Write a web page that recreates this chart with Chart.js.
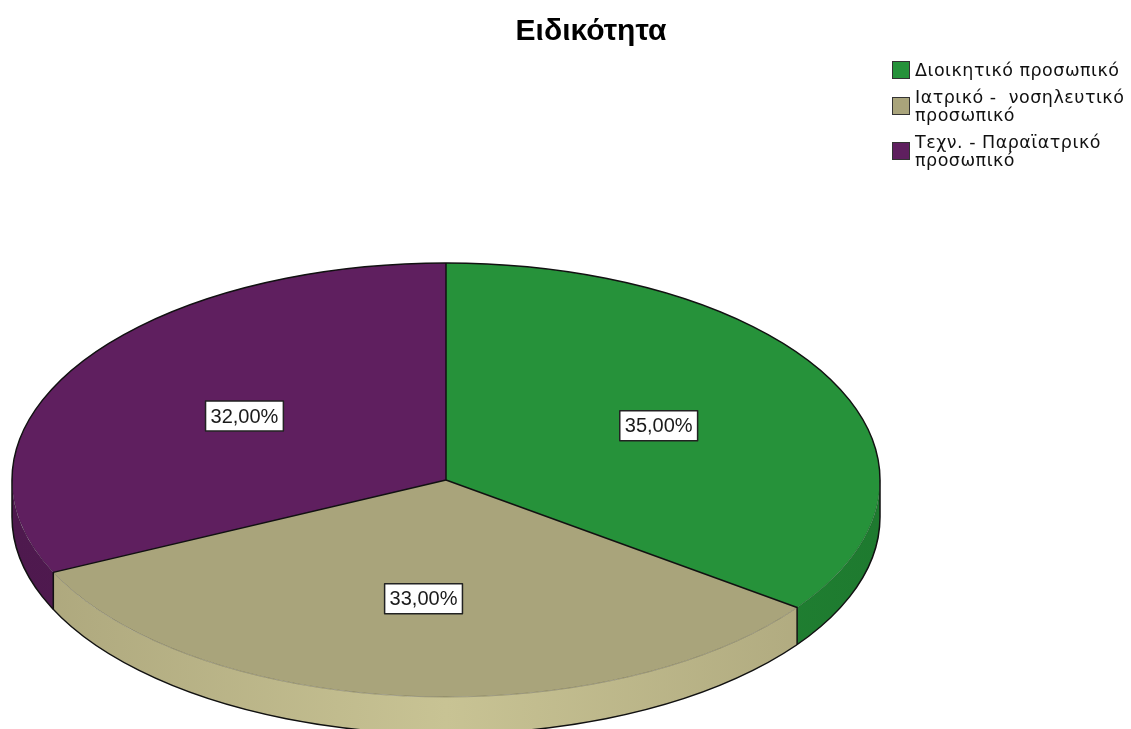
<!DOCTYPE html>
<html lang="el">
<head>
<meta charset="utf-8">
<title>Ειδικότητα</title>
<script src="https://cdn.jsdelivr.net/npm/chart.js@4.4.1/dist/chart.umd.min.js"></script>
<style>
html,body{margin:0;padding:0;background:#fff;}
#wrap{position:relative;width:1131px;height:729px;overflow:hidden;font-family:"Liberation Sans",Arial,sans-serif;}
#pieChart{position:absolute;left:0;top:0;}
#pieTitle{position:absolute;left:441px;top:13px;width:300px;text-align:center;font-weight:bold;font-size:30px;color:#000;}
#pieLegend{position:absolute;left:892px;top:61px;}
.lg-item{display:flex;align-items:center;margin-bottom:9px;}
.lg-box{width:16px;height:16px;border:1px solid #333;margin-right:5px;flex:none;}
.lg-text{font-family:"DejaVu Sans",Verdana,sans-serif;font-size:17.5px;line-height:18px;letter-spacing:0.5px;color:#111;white-space:pre;}
</style>
</head>
<body>
<div id="wrap">
  <canvas id="pieChart" width="1131" height="729"></canvas>
  <div id="pieTitle">Ειδικότητα</div>
  <div id="pieLegend"></div>
</div>
<script>
// Ειδικότητα — κατανομή προσωπικού (%)
var categories = [
  ['Διοικητικό προσωπικό'],
  ['Ιατρικό -  νοσηλευτικό', 'προσωπικό'],
  ['Τεχν. - Παραϊατρικό', 'προσωπικό']
];
var shares = [35, 33, 32];

var topColors  = ['#26923A', '#A9A47B', '#5F1F5F'];
var sideEdge   = ['#1E7A2F', '#ACA67C', '#4E194E'];
var sideMid    = ['#238C37', '#C8C394', '#561B56'];

var TILT = 0.5;     // vertical squash of the disc
var DEPTH = 37;     // thickness of the wall, px
var LABEL_R = 0.55; // label distance as a share of the radius

function geom(arc){
  return {x: arc.x, y: arc.y, rx: arc.outerRadius, ry: arc.outerRadius * TILT};
}

function fmtPct(v){
  return v.toFixed(2).replace('.', ',') + '%';
}

var pie3d = {
  id: 'pie3d',
  beforeDatasetsDraw: function(chart){
    var ctx = chart.ctx;
    var arcs = chart.getDatasetMeta(0).data;
    if(!arcs.length) return;
    var g = geom(arcs[0]);

    // wall of each slice, only the front half is visible
    arcs.forEach(function(a, i){
      var s = Math.max(a.startAngle, 0), e = Math.min(a.endAngle, Math.PI);
      if(e <= s) return;
      var grd = ctx.createLinearGradient(g.x - g.rx, 0, g.x + g.rx, 0);
      grd.addColorStop(0, sideEdge[i]);
      grd.addColorStop(0.5, sideMid[i]);
      grd.addColorStop(1, sideEdge[i]);
      ctx.save();
      ctx.beginPath();
      ctx.ellipse(g.x, g.y, g.rx, g.ry, 0, s, e);
      ctx.ellipse(g.x, g.y + DEPTH, g.rx, g.ry, 0, e, s, true);
      ctx.closePath();
      ctx.fillStyle = grd;
      ctx.fill();
      ctx.restore();
    });

    // top face: let the library draw the arcs in a flattened space
    ctx.save();
    ctx.translate(g.x, g.y);
    ctx.scale(1, TILT);
    ctx.translate(-g.x, -g.y);
  },
  afterDatasetsDraw: function(chart){
    var ctx = chart.ctx;
    var arcs = chart.getDatasetMeta(0).data;
    if(!arcs.length) return;
    ctx.restore();
    var g = geom(arcs[0]);

    ctx.save();
    ctx.lineJoin = 'round';

    // seam between top face and wall
    ctx.beginPath();
    ctx.ellipse(g.x, g.y, g.rx, g.ry, 0, 0, Math.PI);
    ctx.strokeStyle = 'rgba(0,0,0,0.22)';
    ctx.lineWidth = 1;
    ctx.stroke();

    ctx.strokeStyle = '#111';
    ctx.lineWidth = 1.5;

    // outer silhouette
    ctx.beginPath();
    ctx.ellipse(g.x, g.y, g.rx, g.ry, 0, Math.PI, 2 * Math.PI);
    ctx.lineTo(g.x + g.rx, g.y + DEPTH);
    ctx.ellipse(g.x, g.y + DEPTH, g.rx, g.ry, 0, 0, Math.PI);
    ctx.closePath();
    ctx.stroke();

    // slice edges on the top face and down the wall
    arcs.forEach(function(a){
      var t = a.startAngle;
      var px = g.x + g.rx * Math.cos(t), py = g.y + g.ry * Math.sin(t);
      ctx.beginPath();
      ctx.moveTo(g.x, g.y);
      ctx.lineTo(px, py);
      if(Math.sin(t) > 0) ctx.lineTo(px, py + DEPTH);
      ctx.stroke();
    });

    // value boxes
    ctx.font = '20px "Liberation Sans", Arial, sans-serif';
    ctx.textAlign = 'center';
    ctx.textBaseline = 'middle';
    arcs.forEach(function(a, i){
      var mid = (a.startAngle + a.endAngle) / 2;
      var lx = g.x + LABEL_R * g.rx * Math.cos(mid);
      var ly = g.y + LABEL_R * g.ry * Math.sin(mid);
      var txt = fmtPct(shares[i]);
      var w = ctx.measureText(txt).width + 10, h = 30;
      ctx.fillStyle = '#fff';
      ctx.fillRect(lx - w / 2, ly - h / 2, w, h);
      ctx.strokeStyle = '#222';
      ctx.lineWidth = 1.5;
      ctx.strokeRect(lx - w / 2, ly - h / 2, w, h);
      ctx.fillStyle = '#1a1a1a';
      ctx.fillText(txt, lx, ly + 1);
    });
    ctx.restore();
  }
};

var chart = new Chart(document.getElementById('pieChart'), {
  type: 'pie',
  data: {
    labels: categories,
    datasets: [{
      data: shares,
      backgroundColor: topColors,
      borderWidth: 0,
      radius: 434,
      clip: false
    }]
  },
  options: {
    responsive: false,
    animation: false,
    events: [],
    layout: {padding: {left: 0, right: 239, top: 300, bottom: 69}},
    plugins: {legend: {display: false}, tooltip: {enabled: false}, title: {display: false}}
  },
  plugins: [pie3d]
});

// legend built from the chart's own labels and colours
var lg = document.getElementById('pieLegend');
lg.innerHTML = chart.data.labels.map(function(l, i){
  return '<div class="lg-item"><div class="lg-box" style="background:' + topColors[i] + '"></div>'
    + '<div class="lg-text">' + l.join('\n') + '</div></div>';
}).join('');
</script>
</body>
</html>
